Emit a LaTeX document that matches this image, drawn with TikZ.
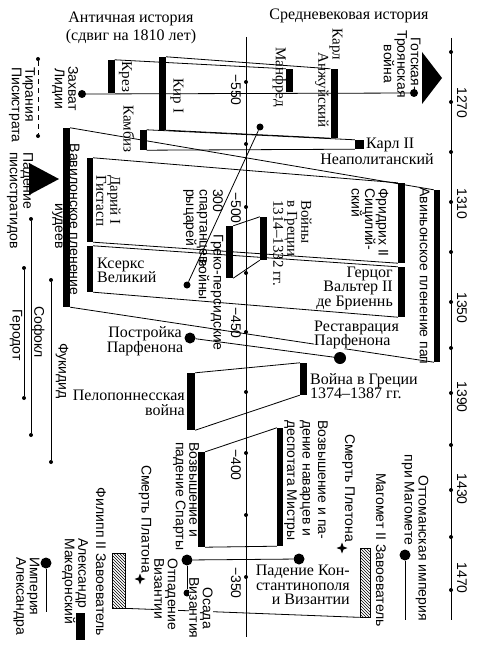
\documentclass[tikz,border=0pt]{standalone}
\usepackage{fontspec}
\setmainfont{Liberation Serif}
\setsansfont{Liberation Sans}
\usetikzlibrary{shapes.geometric,patterns}

\begin{document}
\begin{tikzpicture}[x=1pt,y=-1pt,
		ln/.style={line width=0.8pt},
		axln/.style={line width=1pt},
		blk/.style={fill=black,inner sep=0pt,minimum width=7pt},
		hatch/.style={draw,line width=0.7pt,pattern=north west lines,inner sep=0pt},
		blob/.style={circle,fill=black,inner sep=0pt,minimum size=#1},
		blob/.default=8pt,
		axdot/.style={circle,fill=black,inner sep=0pt,minimum size=4pt},
		plato/.style={star,star points=4,star point ratio=2.6,fill=black,inner sep=0pt,minimum size=11pt},
		hl/.style={font={\fontsize{16}{14.5}\selectfont\lineskiplimit=-20pt},inner sep=0pt},
		vs/.style={rotate=-90,font={\fontsize{15}{14}\selectfont\lineskiplimit=-20pt},inner sep=0pt},
		vl/.style={rotate=-90,font={\sffamily\fontsize{14}{13.5}\selectfont\lineskiplimit=-20pt},inner sep=0pt}]
			\useasboundingbox (0,0) rectangle (477,650);
			\coordinate (ctop) at (246,37);
			\coordinate (cbot) at (246,637);
			\draw[axln] (ctop) -- (cbot);
			\foreach \yy in {82,144,207,273,332,392,453,515,577}
				\node[axdot] (c\yy) at (246,\yy) {};
			\coordinate (rtop) at (451,38);
			\coordinate (rbot) at (451,620);
			\draw[axln] (rtop) -- (rbot);
			\foreach \yy in {52,102,152,202,252,302,348,393,445,490,537,590}
				\node[axdot] (r\yy) at (451,\yy) {};
			\foreach \yy/\lab in {103/1270,204/1310,308/1350,397/1390,489/1430,578/1470}
				\node[vl] (yr\lab) at (462,\yy) {\lab};
			\foreach \yy/\lab in {90/550,208/500,323/450,465/400,583/350}
				\node[vl] (bc\lab) at (236,\yy) {−\lab};
			\node[hl,align=center] (anthead) at (131,28) {Античная история\\[3.5pt](сдвиг на 1810 лет)};
			\node[hl] (medhead) at (349,16) {Средневековая история};
			\node[blk,minimum height=33pt] (krez) at (111,76.5) {};
			\node[blk,minimum height=73pt] (kir) at (162.5,93.5) {};
			\node[blk,minimum height=23pt] (manfred) at (289.5,80.5) {};
			\node[blk,minimum height=69pt] (karl) at (334,103.5) {};
			\node[blk,minimum height=20pt] (kambiz) at (143,140) {};
			\node[blk,minimum height=9pt,minimum width=9pt] (karlii) at (359.5,144.5) {};
			\node[blk,minimum height=179pt] (babylon) at (66.5,217.5) {};
			\node[blk,minimum height=84pt,minimum width=6pt] (darius) at (90,200) {};
			\node[blk,minimum height=46pt,minimum width=6pt] (xerxes) at (90,269) {};
			\node[blk,minimum height=80pt] (friedrich) at (401.5,223) {};
			\node[blk,minimum height=50pt] (walter) at (401.5,292) {};
			\node[blk,minimum height=172pt,minimum width=6pt] (avignon) at (437,276) {};
			\node[blk,minimum height=52pt] (grecpers) at (229.5,252) {};
			\node[blk,minimum height=43pt] (greecei) at (263.5,238.5) {};
			\node[blk,minimum height=57pt,minimum width=8pt] (pelop) at (191,401.5) {};
			\node[blk,minimum height=32pt] (greeceii) at (303.5,379) {};
			\node[blk,minimum height=95pt] (sparta) at (201.5,499.5) {};
			\node[blk,minimum height=118pt,minimum width=6pt] (mistra) at (280,487) {};
			\node[hatch,minimum width=13pt,minimum height=55pt] (philipp) at (118.5,580.5) {};
			\node[hatch,minimum width=10pt,minimum height=69pt] (mehmed) at (365,582.5) {};
			\node[blk,minimum width=9pt,minimum height=27pt] (alexbar) at (80.5,626.5) {};
			\draw[ln] (krez.north east) -- (manfred.north west);
			\draw[ln] (kir.north east) -- (karl.north west);
			\draw[ln] (kir.south east) -- (karl.south west);
			\draw[ln] (kambiz.north east) -- (karlii.north west);
			\draw[ln] (kambiz.south east) -- (karlii.south west);
			\draw[ln] (babylon.north east) -- (avignon.north west);
			\draw[ln] (babylon.south east) -- (avignon.south west);
			\draw[ln] (darius.north east) -- (friedrich.north west);
			\draw[ln] (darius.south east) -- (friedrich.south west);
			\draw[ln] (xerxes.north east) -- (walter.north west);
			\draw[ln] (xerxes.south east) -- (walter.south west);
			\draw[ln] (grecpers.north east) -- (greecei.north west);
			\draw[ln] (grecpers.south east) -- (greecei.south west);
			\draw[ln] (pelop.north east) -- (greeceii.north west);
			\draw[ln] (pelop.south east) -- (greeceii.south west);
			\draw[ln] (sparta.north east) -- (mistra.north west);
			\draw[ln] (sparta.south east) -- (mistra.south west);
			\draw[ln] (philipp.south east) -- (mehmed.south west);
			\node[blob] (lydia) at (82,94) {};
			\node[blob] (gothic) at (414,93) {};
			\draw[ln] (lydia) -- (gothic);
			\node[blob=7pt] (spartans) at (187,285) {};
			\node[blob=7pt] (spartansm) at (260,127) {};
			\draw[ln] (spartans) -- (spartansm);
			\node[blob=11pt] (parthb) at (190,338) {};
			\node[blob=12pt] (parthr) at (340,358) {};
			\draw[ln] (parthb) -- (parthr);
			\node[blob=11pt] (byzfall) at (187,560) {};
			\node[blob=7pt] (byzsiege) at (187,593) {};
			\node[blob=11pt] (constfall) at (299,559) {};
			\draw[ln] (byzfall) -- (constfall);
			\draw[ln] (byzfall) -- (byzsiege);
			\node[blob=11pt] (ottoman) at (405,555) {};
			\coordinate (ottend) at (405,620);
			\draw[ln] (ottoman) -- (ottend);
			\node[blob=11pt] (alexemp) at (46,563) {};
			\coordinate (alexend) at (46,612);
			\draw[ln] (alexemp) -- (alexend);
			\node[plato] (platon) at (140,579) {};
			\node[plato] (pleton) at (342,548) {};
			\node[axdot] (tyri) at (38,59) {};
			\node[axdot] (tyrii) at (38,136) {};
			\draw[ln,dash pattern=on 5pt off 4pt] (tyri) -- (tyrii);
			\node[axdot] (sophi) at (31,219) {};
			\node[axdot] (sophii) at (31,435) {};
			\draw[ln] (sophi) -- (sophii);
			\node[axdot] (heri) at (24,268) {};
			\node[axdot] (herii) at (24,398) {};
			\draw[ln] (heri) -- (herii);
			\node[axdot] (thuci) at (51,280) {};
			\node[axdot] (thucii) at (51,462) {};
			\draw[ln] (thuci) -- (thucii);
			\fill (29,163) -- (59,179) -- (29,195) -- cycle;
			\fill (422,52) -- (442,78) -- (422,104) -- cycle;
			\node[vl,align=left,anchor=west] (tyrlbl) at (22,67) {Тирания\\Писистрата};
			\node[vl,align=center] (lydlbl) at (65,88.5) {Захват\\Лидии};
			\node[vl,align=left,anchor=west] (pislbl) at (20,152) {Падение\\писистратидов};
			\node[vs] (krezlbl) at (125.5,77) {Крез};
			\node[vs] (kirlbl) at (177,96) {Кир I};
			\node[vs] (kamlbl) at (129,129) {Камбиз};
			\node[vs] (manlbl) at (279.5,77) {Манфред};
			\node[vs] (karllbl) at (336,44.5) {Карл};
			\node[vs] (anjlbl) at (322,90) {Анжуйский};
			\node[vl,align=center] (gothlbl) at (402,64) {Готская-\\Троянская\\война};
			\node[vl] (bablbl) at (74.5,219.5) {Вавилонское пленение};
			\node[vl] (judlbl) at (57.5,226) {иудеев};
			\node[vs,align=left,anchor=west] (darlbl) at (108.5,175) {Дарий I\\Гистасп};
			\node[hl,align=left,anchor=west] (xerlbl) at (97,270.5) {Ксеркс\\Великий};
			\node[vl] (avilbl) at (424.5,276) {Авиньонское пленение пап};
			\node[vl,align=left,anchor=west] (frilbl) at (370,188) {Фридрих II\\Сицилий-\\ский};
			\node[hl,align=right,anchor=east] (walbl) at (393,288) {Герцог\\Вальтер II\\де Бриеннь};
			\node[hl,anchor=west] (kiilbl) at (366,145) {Карл II};
			\node[hl] (neaplbl) at (377,159) {Неаполитанский};
			\node[vl,align=left,anchor=west] (sparlbl) at (203,189) {300\\спартанцев-\\рыцарей};
			\node[vl,anchor=west] (gplbl) at (217,234) {Греко-персидские};
			\node[vl,anchor=west] (gpwlbl) at (204,259) {войны};
			\node[vs,align=left,anchor=west] (griilbl) at (292.5,200) {Войны\\в Греции\\1314–1332 гг.};
			\node[hl,align=center] (pblbl) at (145,341) {Постройка\\Парфенона};
			\node[hl,align=left,anchor=west,fill=white] (prlbl) at (314,335) {Реставрация\\Парфенона};
			\node[hl,align=right,anchor=east] (pellbl) at (185,403) {Пелопоннесская\\война};
			\node[hl,align=left,anchor=west] (griiilbl) at (310,386) {Война в Греции\\1374–1387 гг.};
			\node[vl] (sophlbl) at (38,332) {Софокл};
			\node[vl] (herlbl) at (16,335) {Геродот};
			\node[vl] (thulbl) at (62,371) {Фукидид};
			\node[vl,align=left,anchor=west] (spalbl) at (186,442) {Возвышение и\\падение Спарты};
			\node[vl,align=left,anchor=west,font={\sffamily\fontsize{14}{15.5}\selectfont\lineskiplimit=-20pt}] (mislbl) at (306,420) {Возвышение и па-\\дение наварцев и\\деспотата Мистры};
			\node[vl] (platlbl) at (145,519) {Смерть Платона};
			\node[vl] (pletlbl) at (348.5,488) {Смерть Плетона};
			\node[vl] (phillbl) at (101,562) {Филипп II Завоеватель};
			\node[vl] (mehlbl) at (381,550) {Магомет II Завоеватель};
			\node[vl] (ottlbl) at (422,548) {Оттоманская империя};
			\node[vl] (magolbl) at (408,500) {при Магомете};
			\node[vl,align=left,anchor=west] (alexlbl) at (75,538) {Александр\\Македонский};
			\node[vl,align=left,anchor=west] (emplbl) at (26.5,557) {Империя\\Александра};
			\node[vl,align=left,anchor=west,fill=white] (otplbl) at (166,558) {Отпадение\\Византии};
			\node[vl,align=center,fill=white] (osalbl) at (201,608) {Осада\\Византия};
			\node[hl,align=right,anchor=east] (constlbl) at (350,585) {Падение Кон-\\стантинополя\\и Византии};
\end{tikzpicture}
\end{document}
